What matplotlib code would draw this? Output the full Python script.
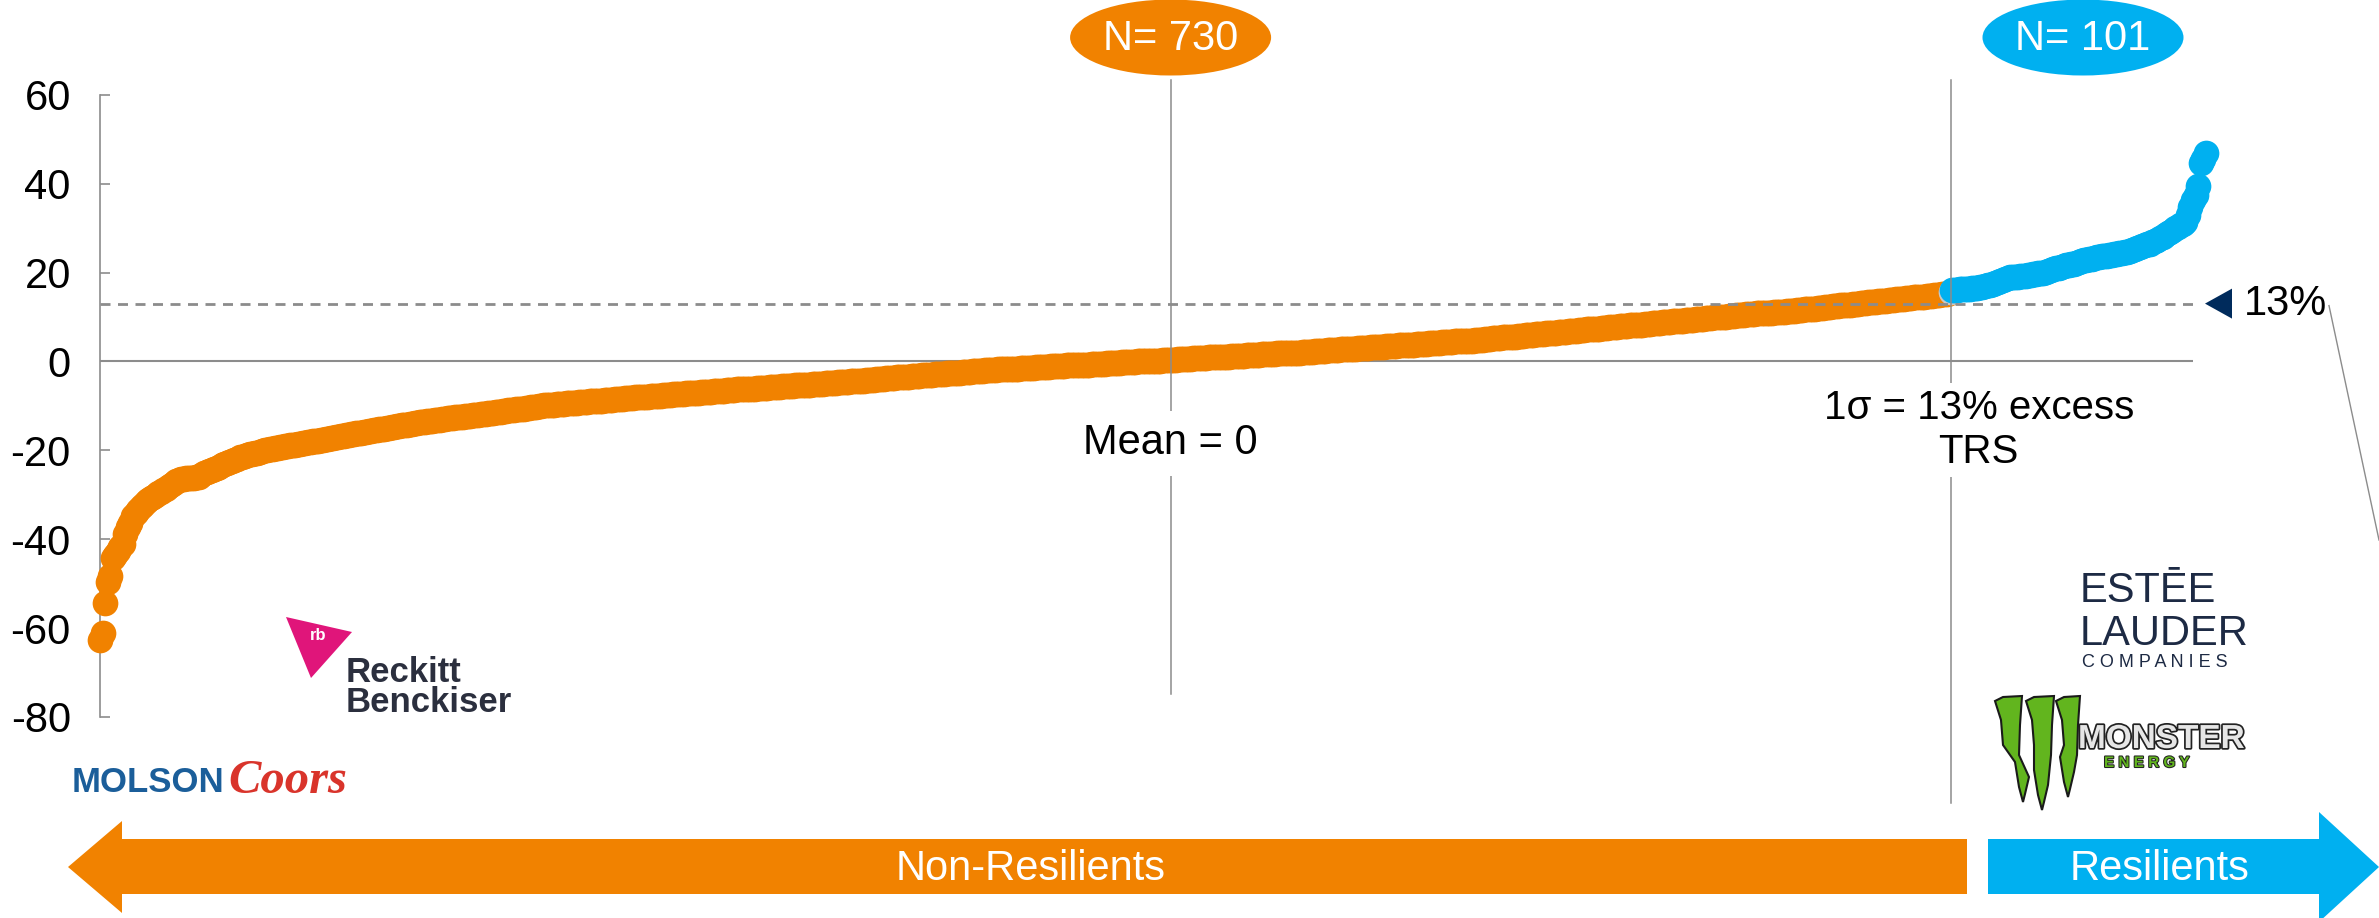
import matplotlib
matplotlib.use("Agg")
import matplotlib.pyplot as plt
import matplotlib.patheffects as pe
from matplotlib.patches import Ellipse, Polygon
import numpy as np

plt.rcParams["font.family"] = ["Liberation Sans", "DejaVu Sans"]

# ---------------------------------------------------------------------------
# Excess TRS (%) per company, sorted ascending
# ---------------------------------------------------------------------------
non_resilient = [
    -62.6, -61.2, -54.3, -49.6, -48.2, -44.2, -43.5, -42.6, -41.8, -41.0,
    -38.9, -37.2, -36.3, -34.7, -34.0, -33.4, -32.8, -32.2, -31.7, -31.2,
    -30.8, -30.4, -30.0, -29.6, -29.3, -29.0, -28.6, -28.2, -27.8, -27.4,
    -27.0, -26.7, -26.5, -26.4, -26.3, -26.3, -26.2, -26.2, -26.1, -26.0,
    -25.6, -25.2, -24.9, -24.7, -24.5, -24.2, -23.9, -23.7, -23.4, -23.1,
    -22.9, -22.6, -22.4, -22.1, -21.9, -21.6, -21.4, -21.2, -21.1, -20.9,
    -20.8, -20.6, -20.5, -20.3, -20.2, -20.0, -19.9, -19.8, -19.6, -19.5,
    -19.4, -19.3, -19.2, -19.1, -19.0, -18.9, -18.8, -18.7, -18.6, -18.5,
    -18.4, -18.3, -18.2, -18.1, -18.0, -17.9, -17.8, -17.7, -17.6, -17.5,
    -17.4, -17.3, -17.2, -17.1, -16.9, -16.8, -16.7, -16.6, -16.5, -16.4,
    -16.3, -16.2, -16.1, -16.0, -15.9, -15.8, -15.7, -15.6, -15.5, -15.4,
    -15.3, -15.2, -15.1, -15.0, -14.9, -14.8, -14.7, -14.6, -14.5, -14.4,
    -14.3, -14.2, -14.1, -14.0, -13.9, -13.8, -13.7, -13.6, -13.6, -13.5,
    -13.4, -13.3, -13.2, -13.2, -13.1, -13.0, -12.9, -12.8, -12.8, -12.7,
    -12.6, -12.5, -12.5, -12.4, -12.3, -12.3, -12.2, -12.1, -12.1, -12.0,
    -11.9, -11.8, -11.8, -11.7, -11.6, -11.5, -11.4, -11.4, -11.3, -11.2,
    -11.1, -11.0, -11.0, -10.9, -10.8, -10.7, -10.6, -10.6, -10.5, -10.4,
    -10.3, -10.2, -10.2, -10.1, -10.0, -9.9, -9.9, -9.8, -9.7, -9.7,
    -9.6, -9.6, -9.5, -9.5, -9.4, -9.4, -9.4, -9.3, -9.3, -9.2,
    -9.2, -9.1, -9.1, -9.0, -9.0, -8.9, -8.9, -8.8, -8.8, -8.7,
    -8.7, -8.6, -8.6, -8.5, -8.5, -8.4, -8.4, -8.3, -8.3, -8.2,
    -8.2, -8.1, -8.1, -8.0, -8.0,
    -7.9, -7.9, -7.8, -7.8, -7.7, -7.7, -7.7, -7.6, -7.6, -7.5,
    -7.5, -7.4, -7.4, -7.3, -7.3, -7.3, -7.2, -7.2, -7.1, -7.1,
    -7.0, -7.0, -6.9, -6.9, -6.9, -6.8, -6.8, -6.7, -6.7, -6.6,
    -6.6, -6.6, -6.5, -6.5, -6.4, -6.4, -6.3, -6.3, -6.3, -6.2,
    -6.2, -6.1, -6.1, -6.1, -6.0, -6.0, -5.9, -5.9, -5.9, -5.8,
    -5.8, -5.7, -5.7, -5.7, -5.6, -5.6, -5.5, -5.5, -5.5, -5.4,
    -5.4, -5.3, -5.3, -5.3, -5.2, -5.2, -5.1, -5.1, -5.1, -5.0,
    -5.0, -4.9, -4.9, -4.9, -4.8, -4.8, -4.7, -4.7, -4.7, -4.6,
    -4.6, -4.5, -4.5, -4.4, -4.4, -4.3, -4.3, -4.2, -4.2, -4.1,
    -4.1, -4.0, -4.0, -3.9, -3.9, -3.8, -3.8, -3.7, -3.7, -3.6,
    -3.6, -3.5, -3.5, -3.4, -3.4, -3.3, -3.3, -3.2, -3.2, -3.1,
    -3.1, -3.0, -3.0, -3.0, -2.9, -2.9, -2.8, -2.8, -2.8, -2.7,
    -2.7, -2.6, -2.6, -2.5, -2.5, -2.4, -2.4, -2.3, -2.3, -2.2,
    -2.2, -2.2, -2.1, -2.1, -2.0, -2.0, -1.9, -1.9, -1.9, -1.8,
    -1.8, -1.8, -1.7, -1.7, -1.7, -1.6, -1.6, -1.6, -1.5, -1.5,
    -1.5, -1.4, -1.4, -1.4, -1.3, -1.3, -1.3, -1.2, -1.2, -1.2,
    -1.1, -1.1, -1.1, -1.0, -1.0, -1.0, -0.9, -0.9, -0.9, -0.8,
    -0.8, -0.8, -0.8, -0.7, -0.7, -0.7, -0.6, -0.6, -0.6, -0.5,
    -0.5, -0.5, -0.4, -0.4, -0.4, -0.3, -0.3, -0.3, -0.2, -0.2,
    -0.2, -0.1, -0.1, -0.1, 0.0, 0.0, 0.0, 0.1, 0.1, 0.1,
    0.1, 0.2, 0.2, 0.2, 0.3, 0.3, 0.3, 0.4, 0.4, 0.4,
    0.5, 0.5, 0.5, 0.6, 0.6, 0.6, 0.7, 0.7, 0.7, 0.8,
    0.8, 0.8, 0.9, 0.9, 0.9, 1.0, 1.0, 1.0, 1.1, 1.1,
    1.1, 1.2, 1.2, 1.2, 1.3, 1.3, 1.3, 1.4, 1.4, 1.4,
    1.5, 1.5, 1.5, 1.6, 1.6, 1.6, 1.7, 1.7, 1.7, 1.8,
    1.8, 1.8, 1.8, 1.9, 1.9, 1.9, 2.0, 2.0, 2.0, 2.1,
    2.1, 2.2, 2.2, 2.2, 2.3, 2.3, 2.4, 2.4, 2.4, 2.5,
    2.5, 2.6, 2.6, 2.6, 2.7, 2.7, 2.8, 2.8, 2.8, 2.9,
    2.9, 3.0, 3.0, 3.0, 3.1, 3.1, 3.2, 3.2, 3.2, 3.3,
    3.3, 3.3, 3.4, 3.4, 3.5, 3.5, 3.5, 3.6, 3.6, 3.7,
    3.7, 3.7, 3.8, 3.8, 3.9, 3.9, 3.9, 4.0, 4.0, 4.1,
    4.1, 4.1, 4.2, 4.2, 4.3, 4.3, 4.3, 4.4, 4.4, 4.5,
    4.5, 4.5, 4.6, 4.6, 4.7, 4.7, 4.7, 4.8, 4.8, 4.9,
    4.9, 5.0, 5.0, 5.1, 5.2, 5.2, 5.3, 5.3, 5.4, 5.4,
    5.5, 5.5, 5.6, 5.6, 5.7, 5.7, 5.8, 5.9, 5.9, 6.0,
    6.0, 6.1, 6.1, 6.2, 6.2, 6.3, 6.3, 6.4, 6.5, 6.5,
    6.6, 6.6, 6.7, 6.7, 6.8, 6.8, 6.9, 6.9, 7.0, 7.1,
    7.1, 7.2, 7.2, 7.3, 7.3, 7.4, 7.4, 7.5, 7.5, 7.6,
    7.7, 7.7, 7.8, 7.8, 7.9, 7.9, 8.0, 8.0, 8.1, 8.1,
    8.2, 8.2, 8.3, 8.3, 8.4, 8.5, 8.5, 8.6, 8.6, 8.7,
    8.7, 8.8, 8.8, 8.9, 8.9, 9.0, 9.0, 9.1, 9.2, 9.2,
    9.3, 9.3, 9.4, 9.4, 9.5, 9.5, 9.6, 9.6, 9.7, 9.8,
    9.8, 9.9, 9.9, 10.0, 10.0, 10.1, 10.1, 10.2, 10.2, 10.3,
    10.4, 10.4, 10.5, 10.5, 10.6, 10.6, 10.7, 10.7, 10.8, 10.8,
    10.9, 10.9, 10.9, 11.0, 11.0, 11.1, 11.1, 11.1, 11.2, 11.2,
    11.3, 11.3, 11.4, 11.4, 11.5, 11.6, 11.6, 11.7, 11.7, 11.8,
    11.9, 11.9, 12.0, 12.1, 12.1, 12.2, 12.2, 12.3, 12.4, 12.4,
    12.5, 12.6, 12.6, 12.7, 12.8, 12.8, 12.9, 12.9, 13.0, 13.1,
    13.1, 13.2, 13.3, 13.3, 13.4, 13.4, 13.5, 13.6, 13.6, 13.7,
    13.8, 13.8, 13.9, 14.0, 14.0, 14.1, 14.1, 14.2, 14.3, 14.3,
    14.4, 14.5, 14.5, 14.6, 14.6, 14.7, 14.8, 14.8, 14.9, 15.0,
    15.0, 15.1, 15.1, 15.2, 15.3,
]

resilient = [
    16.0, 16.0, 16.1, 16.2, 16.2, 16.3, 16.4, 16.4, 16.5, 16.6, 16.6, 16.7, 16.8,
    17.0, 17.2, 17.3, 17.5, 17.7, 17.9, 18.1, 18.3, 18.6, 18.8, 18.9, 19.0, 19.0,
    19.1, 19.2, 19.3, 19.3, 19.4, 19.5, 19.6, 19.7, 19.8, 19.9, 20.0, 20.1,
    20.3, 20.5, 20.7, 20.9, 21.1, 21.3, 21.4, 21.6, 21.7, 21.9, 22.0,
    22.2, 22.4, 22.5, 22.7, 22.8, 23.0, 23.1, 23.2, 23.4, 23.5,
    23.6, 23.7, 23.8, 23.9, 24.0, 24.1, 24.2, 24.3, 24.4, 24.5,
    24.7, 24.9, 25.1, 25.3, 25.5, 25.7, 25.9, 26.1, 26.3, 26.5,
    26.8, 27.1, 27.4, 27.7, 28.0, 28.4, 28.8, 29.2, 29.6, 30.0, 30.3,
    30.6, 31.0, 31.4, 33.0, 34.8, 36.3, 37.4, 39.4, 44.6, 45.6, 46.9,
]

cutoff_point = 15.6          # company sitting on the 1-sigma boundary
sigma = 13                   # 1 standard deviation of excess TRS (%)
mean_rank = 422              # rank position where the mean (0) is reached
yticks = [-80, -60, -40, -20, 0, 20, 40, 60]

ORANGE = "#F18200"
BLUE = "#00B0F0"
GRAY = "#8C8C8C"
NAVY = "#002B5C"

W, H = 2379, 918
fig = plt.figure(figsize=(W / 100, H / 100), dpi=100)

# --- main scatter axes ------------------------------------------------------
ax = fig.add_axes([100 / W, (H - 717) / H, 2093 / W, 622.3 / H])
ax.set_xlim(0, 825)
ax.set_ylim(-80, 60)

x_nr = np.arange(len(non_resilient))
x_r = len(non_resilient) + np.arange(len(resilient))
cut = len(non_resilient) - 0.5

ax.axhline(0, color=GRAY, lw=1.5, zorder=1)
ax.plot(x_nr, non_resilient, "o", ms=18.5, mfc=ORANGE, mec="none",
        clip_on=False, zorder=3)
ax.plot([cut], [cutoff_point], "o", ms=18.5, mfc="#C8C8C8", mec="none",
        clip_on=False, zorder=4)
ax.plot(x_r, resilient, "o", ms=18.5, mfc=BLUE, mec="none",
        clip_on=False, zorder=5)

ax.axhline(sigma, color=GRAY, lw=2.0, dashes=(3.6, 2.7), zorder=6)
ax.plot([mean_rank, mean_rank], [63.4, -74.9], color=GRAY, lw=1.1,
        clip_on=False, zorder=6)
ax.plot([cut, cut], [63.4, -99.4], color=GRAY, lw=1.1,
        clip_on=False, zorder=6)

ax.set_yticks(yticks)
ax.set_yticklabels([str(v) for v in yticks])
ax.set_xticks([])
ax.tick_params(axis="y", direction="in", length=7, width=1.2, color=GRAY,
               labelsize=30, pad=21)
for side in ("top", "right", "bottom"):
    ax.spines[side].set_visible(False)
ax.spines["left"].set_color(GRAY)
ax.spines["left"].set_linewidth(1.2)
ax.patch.set_alpha(0)

mean_px = ax.transData.transform((mean_rank, 0))[0]
cut_px = ax.transData.transform((cut, 0))[0]
sigma_py = H - ax.transData.transform((0, sigma))[1]

# --- annotation layer in pixel coordinates ----------------------------------
ov = fig.add_axes([0, 0, 1, 1])
ov.set_xlim(0, W)
ov.set_ylim(H, 0)
ov.axis("off")
ov.patch.set_alpha(0)

ov.text(mean_px, 443, "Mean = 0", ha="center", va="center", fontsize=30,
        bbox=dict(boxstyle="square,pad=0.3", fc="white", ec="none"))
ov.text(cut_px + 28, 430, "1\u03c3 = 13% excess\nTRS", ha="center",
        va="center", fontsize=29, linespacing=1.2,
        bbox=dict(boxstyle="square,pad=0.15", fc="white", ec="none"))

# group-size ovals
ov.add_patch(Ellipse((mean_px, 37.5), 201, 76, color=ORANGE, lw=0))
ov.text(mean_px, 39, f"N= {len(non_resilient)}", ha="center", va="center",
        fontsize=30, color="white")
ov.add_patch(Ellipse((2083, 37.5), 201, 76, color=BLUE, lw=0))
ov.text(2083, 39, f"N= {len(resilient)}", ha="center", va="center",
        fontsize=30, color="white")

# 13% marker on the right
ov.add_patch(Polygon([(2205, sigma_py), (2232, sigma_py - 15),
                      (2232, sigma_py + 15)], closed=True, color=NAVY, lw=0))
ov.text(2244, sigma_py, f"{sigma}%", ha="left", va="center", fontsize=30)
ov.plot([2329, 2379], [sigma_py + 2, 540], color=GRAY, lw=1.0)

# bottom direction arrows
ov.add_patch(Polygon([(68, 867), (122, 821), (122, 839), (1967, 839),
                      (1967, 894), (122, 894), (122, 913)],
                     closed=True, color=ORANGE, lw=0))
ov.text(1031, 869, "Non-Resilients", ha="center", va="center", fontsize=30,
        color="white")
ov.add_patch(Polygon([(1988, 839), (2319, 839), (2319, 812), (2379, 867),
                      (2319, 922), (2319, 894), (1988, 894)],
                     closed=True, color=BLUE, lw=0))
ov.text(2160, 869, "Resilients", ha="center", va="center", fontsize=30,
        color="white")

# --- company marks ----------------------------------------------------------
# Reckitt Benckiser
ov.add_patch(Polygon([(286, 617), (352, 632), (311, 678)], closed=True,
                     color="#E0157A", lw=0))
ov.text(318, 636, "rb", ha="center", va="center", fontsize=12,
        color="white", fontweight="bold")
ov.text(346, 682, "Reckitt", ha="left", va="baseline", fontsize=25,
        fontweight="bold", color="#2B2F3E")
ov.text(346, 712, "Benckiser", ha="left", va="baseline", fontsize=25,
        fontweight="bold", color="#2B2F3E")

# Molson Coors
ov.text(72, 792, "MOLSON", ha="left", va="baseline", fontsize=25,
        fontweight="bold", color="#1B5E9A")
ov.text(228, 793, "Coors", ha="left", va="baseline", fontsize=35,
        fontweight="bold", fontstyle="italic", color="#D9342B",
        family=["Liberation Serif", "DejaVu Serif"])

# Estee Lauder
ov.text(2080, 602, "EST\u0112E", ha="left", va="baseline", fontsize=30,
        color="#1D2A44")
ov.text(2080, 645, "LAUDER", ha="left", va="baseline", fontsize=30,
        color="#1D2A44")
ov.text(2082, 667, "C O M P A N I E S", ha="left", va="baseline",
        fontsize=13, color="#1D2A44")

# Monster Energy claw mark and wordmark
claw_green = "#62B51E"
for top_l, top_r, tip_x, tip_y in [(1995, 2022, 2023, 802),
                                   (2026, 2054, 2042, 810),
                                   (2056, 2080, 2068, 797)]:
    ov.add_patch(Polygon([(top_l, 701), (top_l + 8, 697), (top_r, 696),
                          (top_r - 2, 725), (top_r - 3, 755),
                          (tip_x + 6, tip_y - 25), (tip_x + 2, tip_y - 8),
                          (tip_x, tip_y), (tip_x - 4, tip_y - 15),
                          (tip_x - 8, tip_y - 40), (top_l + 8, 745),
                          (top_l + 6, 720)],
                         closed=True, fc=claw_green, ec="#1A1A1A", lw=1.5))
ov.text(2078, 748, "MONSTER", ha="left", va="baseline", fontsize=24,
        fontweight="bold", color="#E6E6E6",
        path_effects=[pe.withStroke(linewidth=2.5, foreground="#222222")])
ov.text(2104, 767, "E N E R G Y", ha="left", va="baseline", fontsize=11,
        fontweight="bold", color=claw_green,
        path_effects=[pe.withStroke(linewidth=1.5, foreground="#222222")])

fig.savefig("out.png", dpi=100)
